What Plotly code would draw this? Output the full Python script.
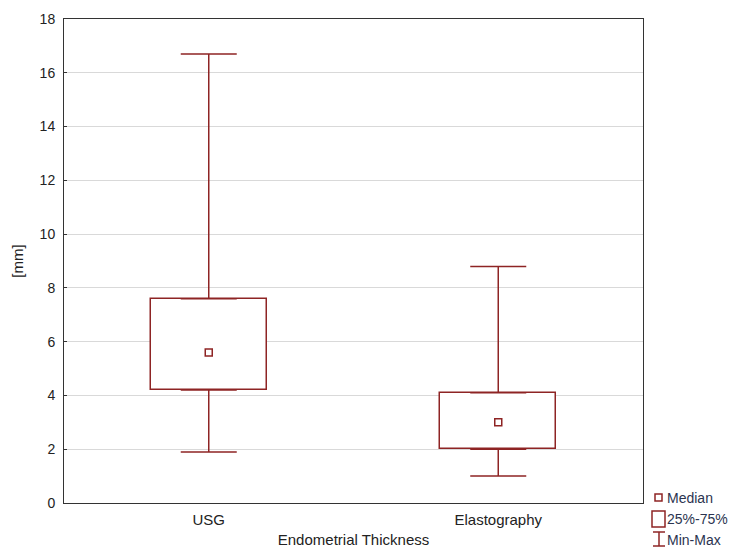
import plotly.graph_objects as go

categories = ["USG", "Elastography"]
mins = [1.9, 1.0]
q1s = [4.2, 2.0]
medians = [5.6, 3.0]
q3s = [7.6, 4.1]
maxs = [16.7, 8.8]
y_ticks = [0, 2, 4, 6, 8, 10, 12, 14, 16, 18]
legend_labels = ["Median", "25%-75%", "Min-Max"]

RED = "#8e2424"
FONT = "Liberation Sans, Arial, sans-serif"
xs = list(range(len(categories)))

fig = go.Figure()

# boxes 25%-75%
fig.add_trace(go.Bar(
    x=xs, y=[b - a for a, b in zip(q1s, q3s)], base=q1s, width=0.4,
    marker=dict(color="white", line=dict(color=RED, width=1.5)),
    showlegend=False, hoverinfo="skip"))

# upper whiskers
fig.add_trace(go.Scatter(
    x=xs, y=q3s, mode="markers", marker=dict(size=1, color="rgba(0,0,0,0)"),
    error_y=dict(type="data", symmetric=False,
                 array=[m - q for m, q in zip(maxs, q3s)], arrayminus=[0, 0],
                 color=RED, thickness=1.5, width=28),
    showlegend=False, hoverinfo="skip"))
# lower whiskers
fig.add_trace(go.Scatter(
    x=xs, y=q1s, mode="markers", marker=dict(size=1, color="rgba(0,0,0,0)"),
    error_y=dict(type="data", symmetric=False,
                 array=[0, 0], arrayminus=[q - m for m, q in zip(mins, q1s)],
                 color=RED, thickness=1.5, width=28),
    showlegend=False, hoverinfo="skip"))
# medians
fig.add_trace(go.Scatter(
    x=xs, y=medians, mode="markers",
    marker=dict(symbol="square-open", size=7, color=RED, line=dict(width=1.5)),
    showlegend=False, hoverinfo="skip"))

# the page has an 8px body margin; size the figure so it fits the window
OFF = 8
W, H = 736 - 2 * OFF, 556 - 2 * OFF
L, R, T, B = 64 - OFF, 736 - 643 - OFF, 19 - OFF, 556 - 503 - OFF
pw, ph = W - L - R, H - T - B
def px(x):  # page pixel -> paper
    return (x - OFF - L) / pw
def py(y):
    return (H - B - (y - OFF)) / ph

shapes = []
shapes.append(dict(type="rect", xref="paper", yref="paper",
                   x0=px(655), x1=px(662), y0=py(501), y1=py(494),
                   line=dict(color=RED, width=1.5), fillcolor="white"))
shapes.append(dict(type="rect", xref="paper", yref="paper",
                   x0=px(652), x1=px(665), y0=py(527), y1=py(511),
                   line=dict(color=RED, width=1.5), fillcolor="white"))
shapes.append(dict(type="line", xref="paper", yref="paper",
                   x0=px(659), x1=px(659), y0=py(546), y1=py(532),
                   line=dict(color=RED, width=1.5)))
shapes.append(dict(type="line", xref="paper", yref="paper",
                   x0=px(653), x1=px(665), y0=py(532), y1=py(532),
                   line=dict(color=RED, width=1.5)))
shapes.append(dict(type="line", xref="paper", yref="paper",
                   x0=px(653), x1=px(665), y0=py(546), y1=py(546),
                   line=dict(color=RED, width=1.5)))

annotations = []
for lab, yc in zip(legend_labels, [498, 519, 540]):
    annotations.append(dict(text=lab, xref="paper", yref="paper",
                            x=px(666), y=py(yc), xanchor="left", yanchor="middle",
                            showarrow=False, borderpad=0,
                            font=dict(family=FONT, size=14, color="#2b3450")))

fig.update_layout(
    width=W, height=H,
    margin=dict(l=L, r=R, t=T, b=B, autoexpand=False),
    plot_bgcolor="white", paper_bgcolor="white",
    font=dict(family=FONT, size=15, color="#222222"),
    shapes=shapes, annotations=annotations,
    bargap=0,
    showlegend=False,
    xaxis=dict(
        range=[-0.5, 1.5], tickmode="array", tickvals=xs, ticktext=categories,
        showgrid=False, zeroline=False, showline=True, mirror=True,
        linecolor="#333333", linewidth=1, ticks="", ticklabelstandoff=3,
        tickfont=dict(family=FONT, size=15, color="#222222"),
        title=dict(text="Endometrial Thickness", standoff=13,
                   font=dict(family=FONT, size=15, color="#222222")),
    ),
    yaxis=dict(
        range=[0, 18], tickmode="array", tickvals=y_ticks,
        showgrid=True, gridcolor="#d9d9d9", gridwidth=1, zeroline=False,
        showline=True, mirror=True, linecolor="#333333", linewidth=1,
        ticks="inside", ticklen=3, tickcolor="#333333", ticklabelstandoff=5,
        tickfont=dict(family=FONT, size=14, color="#222222"),
        title=dict(text="[mm]", standoff=12,
                   font=dict(family=FONT, size=15, color="#222222")),
    ),
)

fig.write_html("out.html")
